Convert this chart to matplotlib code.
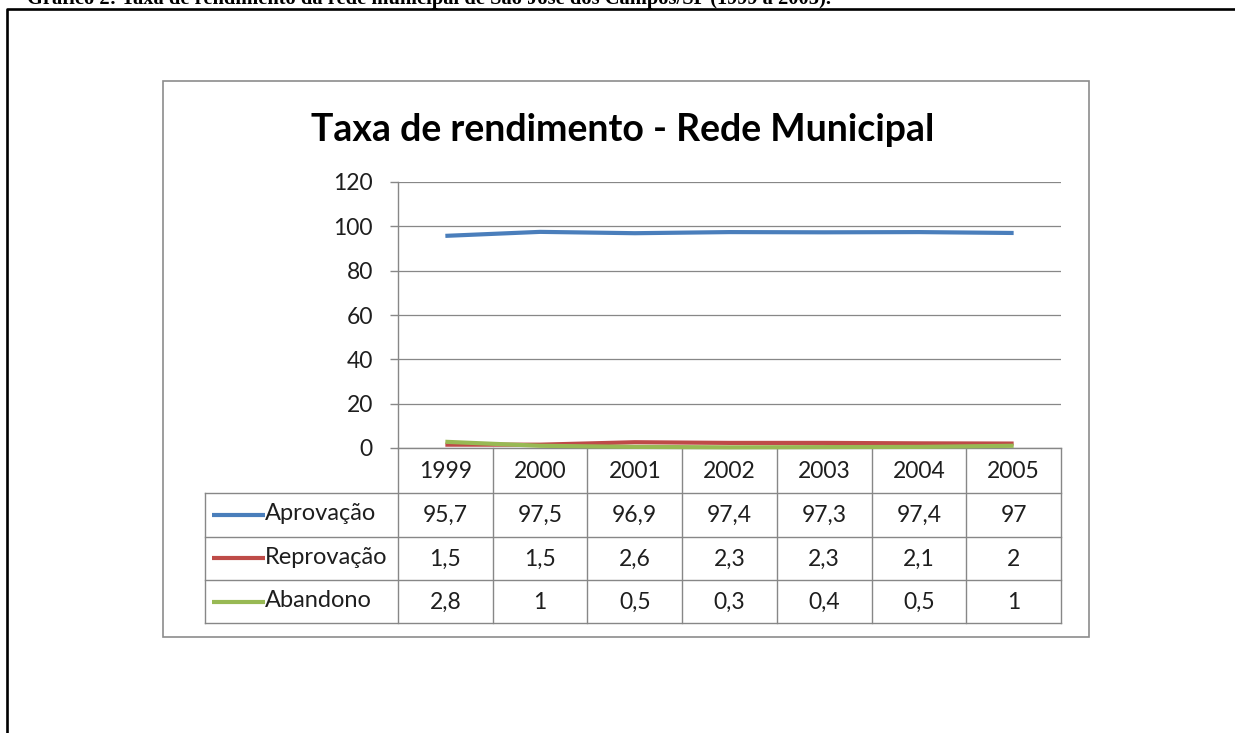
import numpy as np
import matplotlib.pyplot as plt

# data
years = ['1999', '2000', '2001', '2002', '2003', '2004', '2005']
series_names = ['Aprovação', 'Reprovação', 'Abandono']
aprovacao = [95.7, 97.5, 96.9, 97.4, 97.3, 97.4, 97]
reprovacao = [1.5, 1.5, 2.6, 2.3, 2.3, 2.1, 2]
abandono = [2.8, 1, 0.5, 0.3, 0.4, 0.5, 1]
y_ticks = [0, 20, 40, 60, 80, 100, 120]

colors = ['#4a7ebb', '#be4b48', '#98b954']
title = 'Taxa de rendimento - Rede Municipal'
caption = ('Gráfico 2: Taxa de rendimento da rede municipal de '
           'São José dos Campos/SP (1999 a 2005).')

W, H = 1235, 733
fig = plt.figure(figsize=(W / 100, H / 100), dpi=100)
FONT = 'Lato'
TXT = '#1e1e1e'
GRID = '#878787'
FS = 16.5

def px_box(x0, y0, x1, y1):
    # pixel box (top-left origin) -> figure fraction
    return [x0 / W, 1 - y1 / H, (x1 - x0) / W, (y1 - y0) / H]

def fmt(v):
    return str(v).replace('.', ',')

# background layer, pixel coords
bg = fig.add_axes([0, 0, 1, 1], zorder=0)
bg.set_xlim(0, W)
bg.set_ylim(H, 0)
bg.axis('off')

# document frame + caption (cut off at the top, as in the source page)
bg.plot([7, 7, W], [H, 9, 9], color='black', lw=1.9, solid_capstyle='projecting')
bg.text(27, 4, caption, fontsize=14.8, fontweight='bold', family='Liberation Serif',
        ha='left', va='baseline')

# chart area border
bg.add_patch(plt.Rectangle((163, 81), 1089 - 163, 637 - 81, fill=False,
                           ec='#8c8c8c', lw=1.2))
bg.text(623, 141, title, fontsize=27, fontweight='bold', family=FONT,
        ha='center', va='baseline', color='black')

# plot area
ax_l, ax_r, ax_t, ax_b = 398, 1061, 182, 448
ax = fig.add_axes(px_box(ax_l, ax_t, ax_r, ax_b), zorder=1)
ax.patch.set_alpha(0)
x = np.arange(len(years)) + 0.5
for vals, c in zip([aprovacao, reprovacao, abandono], colors):
    ax.plot(x, vals, color=c, lw=3.0, clip_on=False, zorder=3,
            solid_capstyle='butt')
ax.set_xlim(0, len(years))
ax.set_ylim(0, 120)
ax.set_yticks(y_ticks)
ax.set_yticklabels([str(t) for t in y_ticks], family=FONT, fontsize=FS, color=TXT)
ax.set_xticks([])
ax.tick_params(axis='y', length=6, width=1, color=GRID, pad=12)
ax.grid(axis='y', color=GRID, lw=0.9)
for s in ['top', 'right']:
    ax.spines[s].set_visible(False)
for s in ['left', 'bottom']:
    ax.spines[s].set_color(GRID)
    ax.spines[s].set_linewidth(1.0)

# data table under the axis
col_w = (ax_r - ax_l) / len(years)
col_x = [ax_l + i * col_w for i in range(len(years) + 1)]
lab_l = 205
row_y = [ax_b, 493, 536.5, 580, 623]
lc = dict(color=GRID, lw=1.0)
for cx in col_x:
    bg.plot([cx, cx], [row_y[0], row_y[-1]], **lc)
bg.plot([lab_l, lab_l], [row_y[1], row_y[-1]], **lc)
for ry in row_y[1:]:
    bg.plot([lab_l, ax_r], [ry, ry], **lc)

for i, yr in enumerate(years):
    bg.text(col_x[i] + col_w / 2, (row_y[0] + row_y[1]) / 2 + 1, yr, family=FONT,
            fontsize=FS, color=TXT, ha='center', va='center')

for r, (name, vals, c) in enumerate(zip(series_names,
                                        [aprovacao, reprovacao, abandono], colors)):
    cy = (row_y[r + 1] + row_y[r + 2]) / 2
    bg.plot([212, 265], [cy, cy], color=c, lw=3.0, solid_capstyle='butt')
    bg.text(265, cy - 1, name, family=FONT, fontsize=17, color=TXT,
            ha='left', va='center')
    for i, v in enumerate(vals):
        bg.text(col_x[i] + col_w / 2, cy + 1, fmt(v), family=FONT, fontsize=FS,
                color=TXT, ha='center', va='center')

fig.savefig('out.png', dpi=100, facecolor='white')
